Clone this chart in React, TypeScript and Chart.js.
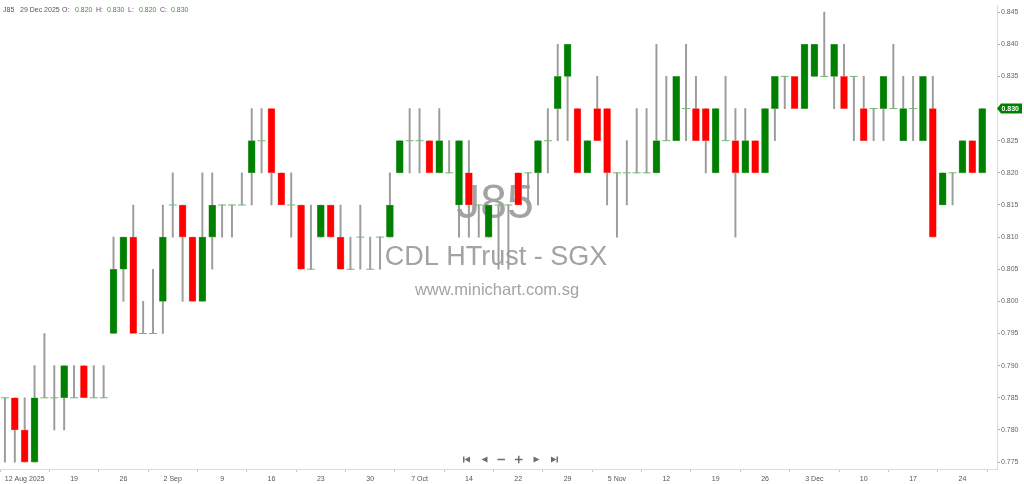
import { useEffect, useRef } from "react";
import { Chart, registerables } from "chart.js";

Chart.register(...registerables);

const dates = [
  "2025-08-07", "2025-08-08", "2025-08-12", "2025-08-13", "2025-08-14", "2025-08-15", "2025-08-18", "2025-08-19",
  "2025-08-20", "2025-08-21", "2025-08-22", "2025-08-25", "2025-08-26", "2025-08-27", "2025-08-28", "2025-08-29",
  "2025-09-01", "2025-09-02", "2025-09-03", "2025-09-04", "2025-09-05", "2025-09-08", "2025-09-09", "2025-09-10",
  "2025-09-11", "2025-09-12", "2025-09-15", "2025-09-16", "2025-09-17", "2025-09-18", "2025-09-19", "2025-09-22",
  "2025-09-23", "2025-09-24", "2025-09-25", "2025-09-26", "2025-09-29", "2025-09-30",
  "2025-10-01", "2025-10-02", "2025-10-03", "2025-10-06", "2025-10-07", "2025-10-08", "2025-10-09", "2025-10-10",
  "2025-10-13", "2025-10-14", "2025-10-15", "2025-10-16", "2025-10-17", "2025-10-21", "2025-10-22", "2025-10-23",
  "2025-10-24", "2025-10-27", "2025-10-28", "2025-10-29", "2025-10-30", "2025-10-31",
  "2025-11-03", "2025-11-04", "2025-11-05", "2025-11-06", "2025-11-07", "2025-11-10", "2025-11-11", "2025-11-12",
  "2025-11-13", "2025-11-14", "2025-11-17", "2025-11-18", "2025-11-19", "2025-11-20", "2025-11-21", "2025-11-24",
  "2025-11-25", "2025-11-26", "2025-11-27", "2025-11-28",
  "2025-12-01", "2025-12-02", "2025-12-03", "2025-12-04", "2025-12-05", "2025-12-08", "2025-12-09", "2025-12-10",
  "2025-12-11", "2025-12-12", "2025-12-15", "2025-12-16", "2025-12-17", "2025-12-18", "2025-12-19", "2025-12-22",
  "2025-12-23", "2025-12-24", "2025-12-26", "2025-12-29",
];

const opens = [
  0.785, 0.785, 0.780, 0.775, 0.785, 0.785, 0.785, 0.785, 0.790, 0.785,
  0.785, 0.795, 0.805, 0.810, 0.795, 0.795, 0.800, 0.815, 0.815, 0.810,
  0.800, 0.810, 0.815, 0.815, 0.815, 0.820, 0.825, 0.830, 0.820, 0.815,
  0.815, 0.805, 0.810, 0.815, 0.810, 0.805, 0.810, 0.805, 0.810, 0.810,
  0.820, 0.825, 0.825, 0.825, 0.820, 0.820, 0.815, 0.820, 0.815, 0.810,
  0.815, 0.815, 0.820, 0.820, 0.820, 0.825, 0.830, 0.835, 0.830, 0.820,
  0.830, 0.830, 0.820, 0.820, 0.820, 0.820, 0.820, 0.825, 0.825, 0.830,
  0.830, 0.830, 0.820, 0.825, 0.825, 0.820, 0.825, 0.820, 0.830, 0.835,
  0.835, 0.830, 0.835, 0.835, 0.835, 0.835, 0.835, 0.830, 0.830, 0.830,
  0.830, 0.825, 0.830, 0.825, 0.830, 0.815, 0.820, 0.820, 0.825, 0.820,
];
const highs = [
  0.785, 0.785, 0.785, 0.790, 0.795, 0.790, 0.790, 0.790, 0.790, 0.790,
  0.790, 0.810, 0.810, 0.815, 0.800, 0.805, 0.815, 0.820, 0.815, 0.810,
  0.820, 0.820, 0.815, 0.815, 0.820, 0.830, 0.830, 0.830, 0.820, 0.820,
  0.815, 0.815, 0.815, 0.815, 0.815, 0.810, 0.815, 0.810, 0.810, 0.820,
  0.825, 0.830, 0.830, 0.825, 0.830, 0.825, 0.825, 0.825, 0.815, 0.815,
  0.815, 0.815, 0.820, 0.820, 0.825, 0.830, 0.840, 0.840, 0.830, 0.825,
  0.835, 0.830, 0.820, 0.825, 0.830, 0.830, 0.840, 0.835, 0.835, 0.840,
  0.835, 0.830, 0.830, 0.835, 0.830, 0.830, 0.825, 0.830, 0.835, 0.835,
  0.835, 0.840, 0.840, 0.845, 0.840, 0.840, 0.835, 0.835, 0.830, 0.835,
  0.840, 0.835, 0.835, 0.835, 0.835, 0.820, 0.820, 0.825, 0.825, 0.830,
];
const lows = [
  0.775, 0.775, 0.775, 0.775, 0.785, 0.780, 0.780, 0.785, 0.785, 0.785,
  0.785, 0.795, 0.800, 0.795, 0.795, 0.795, 0.795, 0.810, 0.800, 0.800,
  0.800, 0.805, 0.810, 0.810, 0.815, 0.815, 0.820, 0.815, 0.815, 0.810,
  0.805, 0.805, 0.810, 0.810, 0.805, 0.805, 0.805, 0.805, 0.805, 0.810,
  0.820, 0.820, 0.820, 0.820, 0.820, 0.820, 0.810, 0.810, 0.810, 0.810,
  0.805, 0.805, 0.815, 0.815, 0.815, 0.820, 0.825, 0.825, 0.820, 0.820,
  0.825, 0.815, 0.810, 0.815, 0.820, 0.820, 0.820, 0.825, 0.825, 0.825,
  0.825, 0.820, 0.820, 0.825, 0.810, 0.820, 0.820, 0.820, 0.825, 0.830,
  0.830, 0.830, 0.835, 0.835, 0.830, 0.830, 0.825, 0.825, 0.825, 0.825,
  0.830, 0.825, 0.825, 0.825, 0.810, 0.815, 0.815, 0.820, 0.820, 0.820,
];
const closes = [
  0.785, 0.780, 0.775, 0.785, 0.785, 0.785, 0.790, 0.785, 0.785, 0.785,
  0.785, 0.805, 0.810, 0.795, 0.795, 0.795, 0.810, 0.815, 0.810, 0.800,
  0.810, 0.815, 0.815, 0.815, 0.815, 0.825, 0.825, 0.820, 0.815, 0.815,
  0.805, 0.805, 0.815, 0.810, 0.805, 0.805, 0.810, 0.805, 0.810, 0.815,
  0.825, 0.825, 0.825, 0.820, 0.825, 0.820, 0.825, 0.815, 0.815, 0.815,
  0.815, 0.815, 0.815, 0.820, 0.825, 0.825, 0.835, 0.840, 0.820, 0.825,
  0.825, 0.820, 0.820, 0.820, 0.820, 0.820, 0.825, 0.825, 0.835, 0.830,
  0.825, 0.825, 0.830, 0.825, 0.820, 0.825, 0.820, 0.830, 0.835, 0.835,
  0.830, 0.840, 0.840, 0.835, 0.840, 0.830, 0.835, 0.825, 0.830, 0.835,
  0.830, 0.830, 0.830, 0.835, 0.810, 0.820, 0.820, 0.825, 0.820, 0.830,
];

const yTicks = [
  0.775, 0.78, 0.785, 0.79, 0.795, 0.8, 0.805, 0.81, 0.815, 0.82, 0.825, 0.83, 0.835, 0.84, 0.845,
];

const xTickDates = [
  "2025-08-12", "2025-08-19", "2025-08-26", "2025-09-02", "2025-09-09", "2025-09-16", "2025-09-23",
  "2025-09-30", "2025-10-07", "2025-10-14", "2025-10-22", "2025-10-29", "2025-11-05", "2025-11-12",
  "2025-11-19", "2025-11-26", "2025-12-03", "2025-12-10", "2025-12-17", "2025-12-24",
];
const xTickLabels = [
  "12 Aug 2025", "19", "26", "2 Sep", "9", "16", "23", "30", "7 Oct", "14",
  "22", "29", "5 Nov", "12", "19", "26", "3 Dec", "10", "17", "24",
];

const symbol = "J85";
const stockName = "CDL HTrust - SGX";
const siteName = "www.minichart.com.sg";
const headerDate = "29 Dec 2025";

const FONT = "'Liberation Sans', Arial, sans-serif";
const GREEN = "#008000";
const RED = "#ff0000";

export default function App() {
  const ref = useRef<HTMLCanvasElement>(null);

  useEffect(() => {
    const canvas = ref.current;
    if (!canvas) return;
    const idx = dates.map((_, i) => i);
    const tickIdx = xTickDates.map((d) => dates.indexOf(d));

    const wickData = idx.map((i) => ({ x: i, y: [lows[i], highs[i]] }));
    const bodyIdx = idx.filter((i) => opens[i] !== closes[i]);
    const bodyData = bodyIdx.map((i) => ({
      x: i,
      y: [Math.min(opens[i], closes[i]), Math.max(opens[i], closes[i])],
    }));
    const bodyColors = bodyIdx.map((i) => (closes[i] > opens[i] ? GREEN : RED));
    const bodyBorders = bodyIdx.map((i) => (closes[i] > opens[i] ? "#5aa85a" : "#ff7070"));
    const dojiData = idx
      .filter((i) => opens[i] === closes[i])
      .map((i) => ({ x: i, y: opens[i] }));

    const overlay = {
      id: "overlay",
      beforeDatasetsDraw(chart: any) {
        const ctx = chart.ctx;
        ctx.save();
        ctx.fillStyle = "#a3a3a3";
        ctx.textAlign = "center";
        ctx.textBaseline = "middle";
        ctx.font = `48px ${FONT}`;
        ctx.fillText(symbol, 495, 205);
        ctx.font = `27px ${FONT}`;
        ctx.fillText(stockName, 496, 258);
        ctx.font = `16.5px ${FONT}`;
        ctx.fillText(siteName, 497, 290);
        ctx.restore();
      },
      afterDraw(chart: any) {
        const ctx = chart.ctx;
        const yS = chart.scales.y;
        const area = chart.chartArea;
        const last = closes[closes.length - 1];
        const py = yS.getPixelForValue(last);
        const x0 = area.right;
        ctx.save();
        ctx.fillStyle = last >= opens[opens.length - 1] ? GREEN : RED;
        ctx.beginPath();
        ctx.moveTo(x0, py);
        ctx.lineTo(x0 + 4, py - 5);
        ctx.lineTo(x0 + 25, py - 5);
        ctx.lineTo(x0 + 25, py + 5);
        ctx.lineTo(x0 + 4, py + 5);
        ctx.closePath();
        ctx.fill();
        ctx.fillStyle = "#ffffff";
        ctx.font = `bold 7px ${FONT}`;
        ctx.textAlign = "left";
        ctx.textBaseline = "middle";
        ctx.fillText(last.toFixed(3), x0 + 4.5, py + 0.5);

        // navigation buttons
        ctx.fillStyle = "#6e6e6e";
        const cy = 459.5;
        ctx.fillRect(463, cy - 3, 1.5, 6);
        ctx.beginPath();
        ctx.moveTo(464.5, cy);
        ctx.lineTo(470, cy - 3);
        ctx.lineTo(470, cy + 3);
        ctx.closePath();
        ctx.fill();
        ctx.beginPath();
        ctx.moveTo(481.5, cy);
        ctx.lineTo(487.5, cy - 3);
        ctx.lineTo(487.5, cy + 3);
        ctx.closePath();
        ctx.fill();
        ctx.fillRect(497.5, cy - 0.75, 7.5, 1.5);
        ctx.fillRect(515, cy - 0.75, 7.5, 1.5);
        ctx.fillRect(518, cy - 3.75, 1.5, 7.5);
        ctx.beginPath();
        ctx.moveTo(539.5, cy);
        ctx.lineTo(533.5, cy - 3);
        ctx.lineTo(533.5, cy + 3);
        ctx.closePath();
        ctx.fill();
        ctx.beginPath();
        ctx.moveTo(556.5, cy);
        ctx.lineTo(551, cy - 3);
        ctx.lineTo(551, cy + 3);
        ctx.closePath();
        ctx.fill();
        ctx.fillRect(556.5, cy - 3, 1.5, 6);
        ctx.restore();
      },
    };

    const chart = new Chart(canvas, {
      type: "bar",
      data: {
        datasets: [
          {
            type: "line",
            data: dojiData,
            showLine: false,
            pointStyle: "line",
            pointRadius: 4,
            pointBorderColor: "#74b874",
            pointBorderWidth: 1,
            borderColor: "#74b874",
            clip: false,
            order: 0,
          } as any,
          {
            type: "bar",
            data: bodyData as any,
            backgroundColor: bodyColors,
            borderColor: bodyBorders,
            borderWidth: 0.6,
            borderSkipped: false,
            barThickness: 7,
            grouped: false,
            order: 1,
          } as any,
          {
            type: "bar",
            data: wickData as any,
            backgroundColor: "#9c9c9c",
            borderWidth: 0,
            barThickness: 1.3,
            grouped: false,
            order: 2,
          } as any,
        ],
      },
      options: {
        animation: false,
        responsive: false,
        maintainAspectRatio: false,
        layout: { padding: 0, autoPadding: false } as any,
        plugins: {
          legend: { display: false },
          tooltip: { enabled: false },
          title: { display: false },
        },
        scales: {
          x: {
            type: "linear",
            position: "bottom",
            min: -0.5,
            max: 100.5,
            offset: false,
            afterBuildTicks: (s: any) => {
              s.ticks = tickIdx.map((v) => ({ value: v }));
            },
            afterFit: (s: any) => {
              s.height = 15;
            },
            ticks: {
              autoSkip: false,
              maxRotation: 0,
              padding: 3,
              color: "#555555",
              font: { size: 7, family: FONT },
              callback: (v: any) => {
                const k = tickIdx.indexOf(Number(v));
                return k >= 0 ? xTickLabels[k] : "";
              },
            },
            grid: {
              drawOnChartArea: false,
              drawTicks: true,
              tickLength: 3,
              color: "#c8c8c8",
            },
            border: { display: true, color: "#dcdcdc" },
          },
          y: {
            type: "linear",
            position: "right",
            min: 0.77392,
            max: 0.84608,
            afterBuildTicks: (s: any) => {
              s.ticks = yTicks.map((v) => ({ value: v }));
            },
            afterFit: (s: any) => {
              s.width = 27;
            },
            ticks: {
              padding: 1,
              color: "#666666",
              font: { size: 7, family: FONT },
              callback: (v: any) => Number(v).toFixed(3),
            },
            grid: {
              drawOnChartArea: false,
              drawTicks: true,
              tickLength: 3,
              color: "#b0b0b0",
            },
            border: { display: true, color: "#dcdcdc" },
          },
        },
      },
      plugins: [overlay],
    });

    return () => chart.destroy();
  }, []);

  const hdr: any = {
    position: "absolute",
    top: 5,
    fontFamily: FONT,
    fontSize: "7px",
    lineHeight: "10px",
    whiteSpace: "nowrap",
  };

  return (
    <div
      style={{
        position: "fixed",
        left: 0,
        top: 0,
        width: 1024,
        height: 484,
        background: "#ffffff",
        overflow: "hidden",
      }}
    >
      <canvas ref={ref} width={1024} height={484} style={{ display: "block" }} />
      <span style={{ ...hdr, left: 3, color: "#555" }}>{symbol}</span>
      <span style={{ ...hdr, left: 20, color: "#555" }}>{headerDate}</span>
      <span style={{ ...hdr, left: 62, color: "#555" }}>O:</span>
      <span style={{ ...hdr, left: 75, color: "#2f9a2f" }}>{opens[opens.length - 1].toFixed(3)}</span>
      <span style={{ ...hdr, left: 96, color: "#555" }}>H:</span>
      <span style={{ ...hdr, left: 107, color: "#2f9a2f" }}>{highs[highs.length - 1].toFixed(3)}</span>
      <span style={{ ...hdr, left: 128, color: "#555" }}>L:</span>
      <span style={{ ...hdr, left: 139, color: "#2f9a2f" }}>{lows[lows.length - 1].toFixed(3)}</span>
      <span style={{ ...hdr, left: 160, color: "#555" }}>C:</span>
      <span style={{ ...hdr, left: 171, color: "#2f9a2f" }}>{closes[closes.length - 1].toFixed(3)}</span>
    </div>
  );
}
